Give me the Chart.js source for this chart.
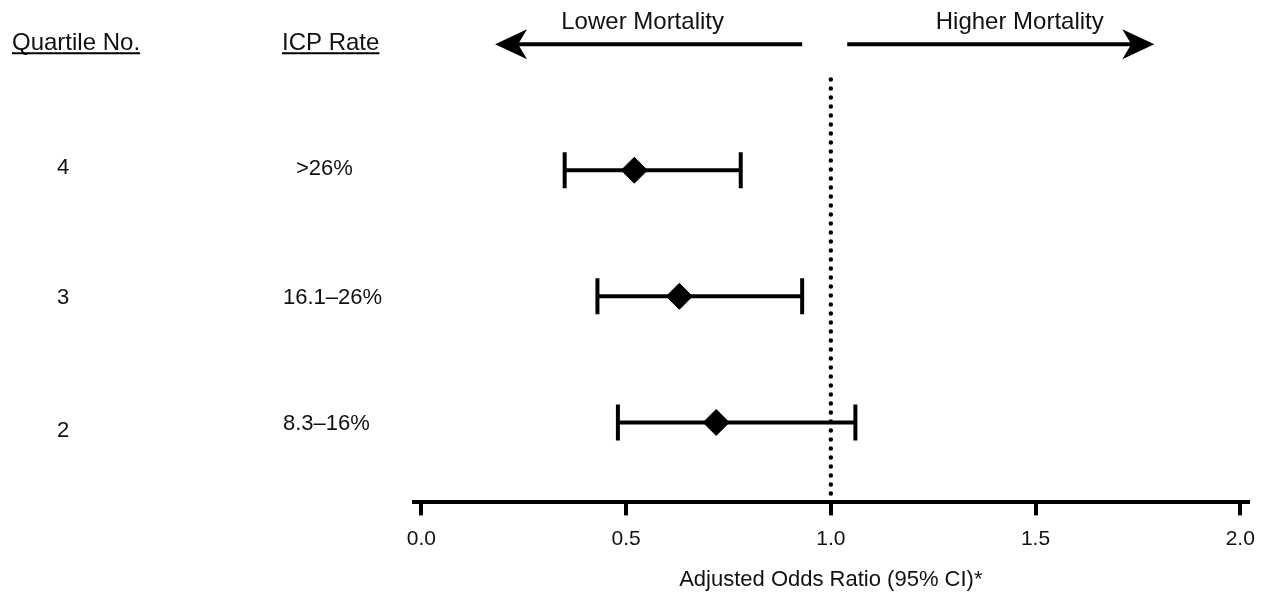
<!DOCTYPE html>
<html>
<head>
<meta charset="utf-8">
<title>ICP rate quartiles - adjusted odds ratio</title>
<script src="https://cdn.jsdelivr.net/npm/chart.js@4.4.1/dist/chart.umd.min.js"></script>
<style>
  html, body { margin: 0; padding: 0; background: #fff; }
  #wrap { width: 1266px; height: 597px; }
</style>
</head>
<body>
<div id="wrap"><canvas id="chart"></canvas></div>
<script>
// ---- data ----
const quartiles = ['4', '3', '2'];
const icpRates = ['>26%', '16.1–26%', '8.3–16%'];
const rowPos = [4, 3, 2];
const oddsRatio = [0.52, 0.63, 0.72];
const ciLower = [0.35, 0.43, 0.48];
const ciUpper = [0.78, 0.93, 1.06];
const xTicks = [0.0, 0.5, 1.0, 1.5, 2.0];
const refValue = 1.0;
const arrowLeft = [0.93, 0.18];   // from, to
const arrowRight = [1.04, 1.79];
const arrowLabels = ['Lower Mortality', 'Higher Mortality'];
const headers = ['Quartile No.', 'ICP Rate'];

// ---- layout ----
const FONT = '"Liberation Sans", Arial, Helvetica, sans-serif';
const Y_MIN = 1.366, Y_MAX = 5.35;
const HEADER_ROW = 5.0;
const REF_TOP = 4.76;
const icpIndent = [13, 0, 0];
const quartileNudge = [-2, 2, 8];
const icpNudge = [-1, 2, 1];
const captionShift = [-6, 19];

// error bars: one line dataset per row, caps drawn as rotated 'line' points
const ciSets = rowPos.map((r, i) => ({
    type: 'line',
    data: [{ x: ciLower[i], y: r }, { x: ciUpper[i], y: r }],
    borderColor: '#000',
    borderWidth: 4,
    pointStyle: 'line',
    pointRotation: 90,
    pointRadius: 18,
    pointBorderWidth: 4,
    pointBorderColor: '#000',
    order: 2
}));

const chart = new Chart(document.getElementById('chart'), {
    type: 'scatter',
    data: {
        datasets: [
            {
                label: 'OR',
                data: rowPos.map((r, i) => ({ x: oddsRatio[i], y: r })),
                pointStyle: 'rectRot',
                pointRadius: 13,
                pointBackgroundColor: '#000',
                pointBorderColor: '#000',
                pointBorderWidth: 1,
                order: 1
            },
            ...ciSets,
            {
                type: 'line',
                label: 'ref',
                data: [{ x: refValue, y: Y_MIN }, { x: refValue, y: REF_TOP }],
                borderColor: '#000',
                borderWidth: 4.5,
                borderDash: [0, 9],
                borderCapStyle: 'round',
                pointRadius: 0,
                order: 3
            }
        ]
    },
    options: {
        responsive: true,
        maintainAspectRatio: false,
        animation: false,
        events: [],
        layout: { autoPadding: false, padding: { left: 414, right: 16, top: 0, bottom: 0 } },
        plugins: {
            legend: { display: false },
            tooltip: { enabled: false }
        },
        scales: {
            x: {
                type: 'linear',
                min: -0.018,
                max: 2.018,
                afterBuildTicks: (s) => { s.ticks = xTicks.map(v => ({ value: v })); },
                grid: {
                    drawOnChartArea: false,
                    drawTicks: true,
                    tickLength: 13,
                    color: '#000',
                    lineWidth: 4
                },
                border: { display: true, color: '#000', width: 4 },
                ticks: {
                    color: '#111',
                    padding: 11,
                    font: { family: FONT, size: 21 },
                    callback: (v) => Number(v).toFixed(1)
                },
                title: {
                    display: true,
                    text: 'Adjusted Odds Ratio (95% CI)*',
                    color: '#111',
                    font: { family: FONT, size: 22 },
                    padding: { top: 4, bottom: 4 }
                }
            },
            y: {
                type: 'linear',
                display: false,
                min: Y_MIN,
                max: Y_MAX
            }
        }
    },
    plugins: [{
        id: 'forestDecor',
        afterDraw(chart) {
            const { ctx, scales: { x, y } } = chart;
            ctx.save();
            ctx.fillStyle = '#111';
            ctx.strokeStyle = '#000';

            // underlined column headers
            const hy = y.getPixelForValue(HEADER_ROW);
            ctx.font = '24px ' + FONT;
            ctx.textAlign = 'left';
            ctx.textBaseline = 'alphabetic';
            [12, 282].forEach((hx, i) => {
                ctx.fillText(headers[i], hx, hy + 6);
                const w = ctx.measureText(headers[i]).width;
                ctx.lineWidth = 2;
                ctx.beginPath();
                ctx.moveTo(hx, hy + 9);
                ctx.lineTo(hx + w, hy + 9);
                ctx.stroke();
            });

            // row labels
            ctx.font = '22px ' + FONT;
            ctx.textBaseline = 'middle';
            rowPos.forEach((r, i) => {
                const ry = y.getPixelForValue(r);
                ctx.textAlign = 'center';
                ctx.fillText(quartiles[i], 63, ry + quartileNudge[i]);
                ctx.textAlign = 'left';
                ctx.fillText(icpRates[i], 283 + icpIndent[i], ry + icpNudge[i]);
            });

            // direction arrows with captions
            ctx.font = '24px ' + FONT;
            ctx.textAlign = 'center';
            ctx.textBaseline = 'alphabetic';
            [arrowLeft, arrowRight].forEach((a, i) => {
                const x0 = x.getPixelForValue(a[0]);
                const x1 = x.getPixelForValue(a[1]);
                const dir = Math.sign(x1 - x0);
                ctx.lineWidth = 4;
                ctx.beginPath();
                ctx.moveTo(x0, hy);
                ctx.lineTo(x1 - dir * 20, hy);
                ctx.stroke();
                ctx.fillStyle = '#000';
                ctx.beginPath();
                ctx.moveTo(x1, hy);
                ctx.lineTo(x1 - dir * 32, hy - 15);
                ctx.lineTo(x1 - dir * 23, hy);
                ctx.lineTo(x1 - dir * 32, hy + 15);
                ctx.closePath();
                ctx.fill();
                ctx.fillStyle = '#111';
                ctx.fillText(arrowLabels[i], (x0 + x1) / 2 + captionShift[i], hy - 15);
            });
            ctx.restore();
        }
    }]
});
</script>
</body>
</html>
